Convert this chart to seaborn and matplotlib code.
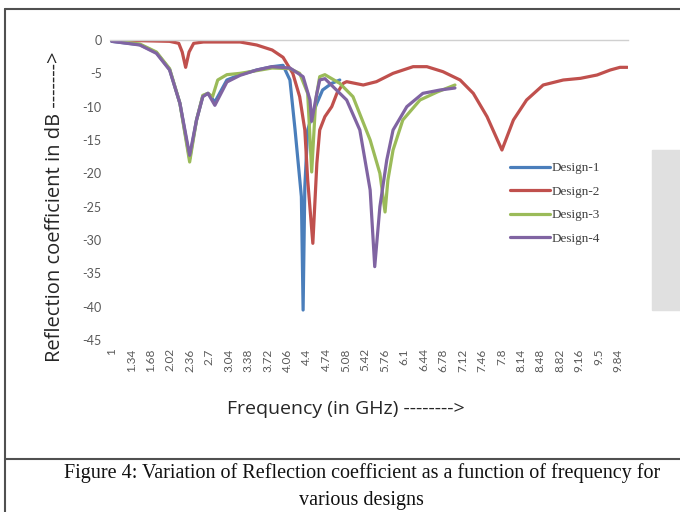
"""
Reflection coefficient vs frequency for four antenna designs
"""
import numpy as np
import pandas as pd
import matplotlib
matplotlib.use("Agg")
import matplotlib.pyplot as plt
import seaborn as sns

# values (GHz, dB)
freq_d1 = [1.0, 1.49, 1.78, 2.01, 2.19, 2.36, 2.48, 2.59, 2.68, 2.80, 3.01, 3.24, 3.53, 3.80, 3.99,
           4.11, 4.20, 4.31, 4.34, 4.37, 4.42, 4.49, 4.58, 4.68, 4.84, 4.98]
s11_d1 = [-0.2, -0.7, -1.9, -4.4, -9.5, -17.8, -12.0, -8.4, -8.0, -9.3, -6.0, -5.2, -4.5, -4.0, -3.8,
          -6.0, -13.5, -23.5, -40.5, -22.0, -13.5, -11.5, -9.5, -7.5, -6.5, -6.0]

freq_d2 = [1.0, 1.49, 2.01, 2.17, 2.23, 2.29, 2.35, 2.43, 2.60, 3.24, 3.53, 3.80, 3.99, 4.16, 4.28,
           4.37, 4.42, 4.51, 4.58, 4.63, 4.72, 4.84, 4.93, 5.04, 5.10, 5.39, 5.62, 5.91, 6.26, 6.50,
           6.78, 7.08, 7.31, 7.55, 7.81, 8.01, 8.24, 8.53, 8.88, 9.18, 9.47, 9.70, 9.87, 10.0]
s11_d2 = [0.0, -0.1, -0.2, -0.5, -1.8, -4.1, -1.8, -0.5, -0.3, -0.3, -0.75, -1.5, -2.6, -5.0, -8.5,
          -13.5, -21.0, -30.5, -18.5, -13.5, -11.5, -10.0, -8.0, -6.5, -6.25, -6.75, -6.25, -5.0, -4.0, -4.0,
          -4.75, -6.0, -8.0, -11.5, -16.5, -12.0, -9.0, -6.75, -6.0, -5.75, -5.25, -4.5, -4.1, -4.1]

freq_d3 = [1.0, 1.49, 1.78, 2.01, 2.19, 2.36, 2.48, 2.59, 2.68, 2.76, 2.85, 3.01, 3.24, 3.53, 3.80,
           4.11, 4.28, 4.42, 4.49, 4.56, 4.63, 4.72, 4.98, 5.21, 5.51, 5.68, 5.77, 5.82, 5.91, 6.08,
           6.38, 6.68, 6.99]
s11_d3 = [-0.1, -0.6, -1.8, -4.3, -9.5, -18.3, -12.0, -8.3, -8.0, -8.5, -6.0, -5.2, -5.0, -4.6, -4.2,
          -4.3, -5.0, -8.0, -19.8, -9.0, -5.5, -5.2, -6.5, -8.5, -15.0, -20.0, -25.8, -21.0, -16.5, -12.0,
          -9.0, -7.8, -6.75]

freq_d4 = [1.0, 1.49, 1.78, 2.01, 2.19, 2.36, 2.48, 2.59, 2.68, 2.80, 3.01, 3.24, 3.53, 3.80, 4.11,
           4.34, 4.46, 4.49, 4.58, 4.63, 4.72, 5.10, 5.33, 5.51, 5.59, 5.68, 5.80, 5.91, 6.15, 6.43,
           6.73, 6.99]
s11_d4 = [-0.2, -0.75, -2.0, -4.5, -9.5, -17.3, -12.0, -8.5, -8.0, -9.8, -6.3, -5.3, -4.5, -4.0, -4.2,
          -5.5, -9.0, -12.2, -8.0, -6.0, -5.8, -9.0, -13.5, -22.5, -34.0, -25.0, -18.0, -13.5, -10.0, -8.0,
          -7.5, -7.2]

designs = ["Design-1", "Design-2", "Design-3", "Design-4"]
colors = ["#4a7ebb", "#c0504d", "#9bbb59", "#8064a2"]

tick_vals = [round(1 + 0.34 * i, 2) for i in range(27)]
tick_labels = ["{:g}".format(v) for v in tick_vals]

df = pd.concat([
    pd.DataFrame({"freq": freq_d1, "s11": s11_d1, "design": designs[0]}),
    pd.DataFrame({"freq": freq_d2, "s11": s11_d2, "design": designs[1]}),
    pd.DataFrame({"freq": freq_d3, "s11": s11_d3, "design": designs[2]}),
    pd.DataFrame({"freq": freq_d4, "s11": s11_d4, "design": designs[3]}),
])

sns.set_style("white")
plt.rcParams["font.family"] = ["Lato", "DejaVu Sans"]

fig = plt.figure(figsize=(6.8, 5.12), dpi=100)
ax = fig.add_axes([110 / 680, 1 - 340 / 512, 518 / 680, 300 / 512])

sns.lineplot(data=df, x="freq", y="s11", hue="design", hue_order=designs,
             palette=colors, linewidth=2.3, ax=ax, sort=False, legend=True)

ax.set_xlim(0.97, 10.01)
ax.set_ylim(-45, 0)
ax.set_yticks(range(0, -50, -5))
ax.set_yticklabels([str(v) for v in range(0, -50, -5)], fontsize=9, color="#595959")
ax.set_xticks(tick_vals)
ax.set_xticklabels(tick_labels, rotation=90, fontsize=8.5, color="#595959")
ax.tick_params(length=0, pad=6)
for s in ["left", "right", "bottom"]:
    ax.spines[s].set_visible(False)
ax.spines["top"].set_color("#d0d0d0")
ax.spines["top"].set_linewidth(1)

ax.set_xlabel("Frequency (in GHz) -------->", fontsize=14, color="#262626",
              family=["Open Sans", "DejaVu Sans"])
ax.set_ylabel("Reflection coefficient in dB ------->", fontsize=14.5, color="#262626",
              family=["Open Sans", "DejaVu Sans"])
ax.yaxis.set_label_coords(-0.087, 0.445)
ax.xaxis.set_label_coords(0.455, -0.2)

leg = ax.legend(loc="center left", bbox_to_anchor=(0.75, 0.455), frameon=False,
                handlelength=3.0, handletextpad=0.15, labelspacing=0.85,
                prop={"family": "Liberation Serif", "size": 9.5})
for t in leg.get_texts():
    t.set_color("#404040")

# page frame and caption from the document
fig.add_artist(plt.Line2D([5 / 680, 5 / 680], [0, 1 - 9 / 512], color="#505050", lw=1.5))
fig.add_artist(plt.Line2D([5 / 680, 1], [1 - 9 / 512, 1 - 9 / 512], color="#505050", lw=1.5))
fig.add_artist(plt.Line2D([5 / 680, 1], [1 - 459 / 512, 1 - 459 / 512], color="#505050", lw=1.5))
fig.patches.append(plt.Rectangle((652 / 680, 1 - 310 / 512), 28 / 680, 160 / 512,
                                 transform=fig.transFigure, color="#e0e0e0", zorder=0))
fig.text(0.532, 1 - 473 / 512, "Figure 4: Variation of Reflection coefficient as a function of frequency for",
         ha="center", va="center", fontsize=14.5, family="Liberation Serif", color="#111111")
fig.text(0.532, 1 - 500 / 512, "various designs",
         ha="center", va="center", fontsize=14.5, family="Liberation Serif", color="#111111")

fig.savefig("out.png", dpi=100)
